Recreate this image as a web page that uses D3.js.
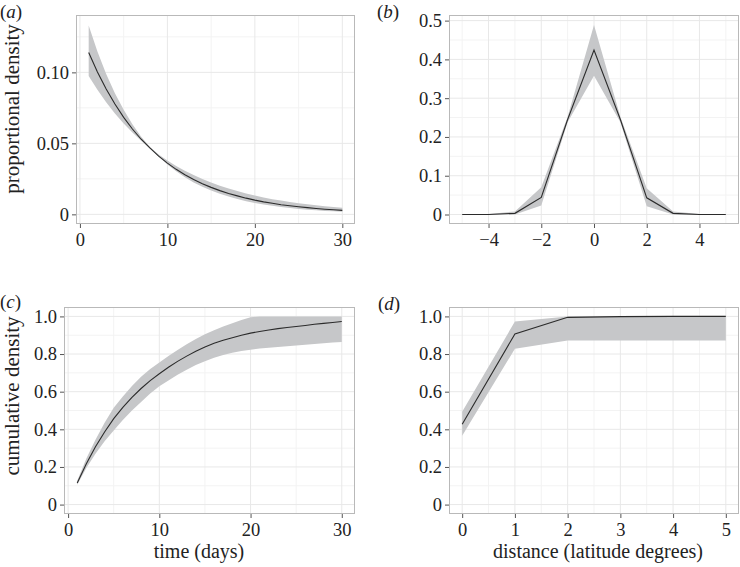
<!DOCTYPE html>
<html><head><meta charset="utf-8">
<script src="https://cdn.jsdelivr.net/npm/d3@7"></script>
<style>
html,body{margin:0;padding:0;background:#fff;}
svg text{font-family:"Liberation Serif","DejaVu Serif",serif;fill:#222;}
</style>
</head><body>
<svg id="chart" width="740" height="567"></svg>
<script>
// ---- data ----
const days = [1,2,3,4,5,6,7,8,9,10,11,12,13,14,15,16,17,18,19,20,21,22,23,24,25,26,27,28,29,30];
const propMean = [0.1140,0.1003,0.0883,0.0777,0.0683,0.0601,0.0529,0.0468,0.0410,0.0361,0.0317,0.0279,0.0246,0.0216,0.0190,0.0167,0.0147,0.0130,0.0114,0.0100,0.0088,0.0078,0.0068,0.0060,0.0053,0.0047,0.0041,0.0036,0.0032,0.0028];
const propLow  = [0.0975,0.0878,0.0790,0.0711,0.0640,0.0577,0.0519,0.0462,0.0407,0.0351,0.0303,0.0261,0.0225,0.0194,0.0168,0.0145,0.0125,0.0108,0.0093,0.0080,0.0069,0.0060,0.0051,0.0044,0.0038,0.0033,0.0028,0.0024,0.0021,0.0018];
const propHigh = [0.1330,0.1147,0.0989,0.0853,0.0736,0.0635,0.0547,0.0474,0.0421,0.0379,0.0341,0.0307,0.0277,0.0249,0.0224,0.0202,0.0182,0.0164,0.0147,0.0133,0.0119,0.0107,0.0097,0.0087,0.0078,0.0071,0.0064,0.0057,0.0052,0.0046];

const dist = [-5,-4,-3,-2,-1,0,1,2,3,4,5];
const distMean = [0,0,0.003,0.044,0.245,0.424,0.245,0.043,0.003,0,0];
const distLow  = [0,0,0,0.023,0.238,0.358,0.238,0.021,0,0,0];
const distHigh = [0,0.001,0.008,0.070,0.252,0.489,0.252,0.068,0.008,0.001,0];

const cumMean = [0.115,0.217,0.307,0.386,0.457,0.517,0.570,0.617,0.659,0.695,0.730,0.761,0.789,0.815,0.838,0.857,0.873,0.887,0.900,0.911,0.920,0.928,0.935,0.941,0.946,0.952,0.958,0.963,0.968,0.973];
const cumLow  = [0.105,0.195,0.270,0.337,0.394,0.450,0.500,0.545,0.590,0.629,0.660,0.690,0.717,0.742,0.762,0.780,0.795,0.807,0.816,0.823,0.829,0.834,0.838,0.842,0.846,0.850,0.854,0.857,0.861,0.864];
const cumHigh = [0.127,0.245,0.345,0.435,0.515,0.575,0.630,0.680,0.720,0.755,0.790,0.822,0.852,0.880,0.905,0.926,0.946,0.964,0.981,0.995,1.0,1.0,1.0,1.0,1.0,1.0,1.0,1.0,1.0,1.0];

const latDeg = [0,1,2,3,4,5];
const latMean = [0.427,0.907,0.995,0.999,1.0,1.0];
const latLow  = [0.366,0.828,0.872,0.872,0.872,0.872];
const latHigh = [0.494,0.973,1.0,1.0,1.0,1.0];

const ticksA_x = [0,10,20,30];
const ticksA_y = [0,0.05,0.10];
const labelsA_y = ["0","0.05","0.10"];
const ticksB_x = [-4,-2,0,2,4];
const labelsB_x = ["\u22124","\u22122","0","2","4"];
const ticksB_y = [0,0.1,0.2,0.3,0.4,0.5];
const labelsB_y = ["0","0.1","0.2","0.3","0.4","0.5"];
const ticksC_y = [0,0.2,0.4,0.6,0.8,1.0];
const labelsC_y = ["0","0.2","0.4","0.6","0.8","1.0"];
const ticksD_x = [0,1,2,3,4,5];

// ---- drawing ----
const svg = d3.select("#chart");
const SERIF = "'Liberation Serif','DejaVu Serif',serif";

function panel(cfg){
  const {x0,x1,y0,y1,xDom,yDom,xTicks,xLabels,yTicks,yLabels,xMinor,yMinor,xs,mean,lo,hi,tag,tagPos,xTitle,xTitlePos,yTitle,yTitlePos} = cfg;
  const x = d3.scaleLinear().domain(xDom).range([x0,x1]);
  const y = d3.scaleLinear().domain(yDom).range([y1,y0]);
  const g = svg.append("g");
  g.append("rect").attr("x",x0).attr("y",y0).attr("width",x1-x0).attr("height",y1-y0).attr("fill","#fff");
  g.selectAll(null).data(xMinor).join("line")
    .attr("x1",d=>x(d)).attr("x2",d=>x(d)).attr("y1",y0).attr("y2",y1)
    .attr("stroke","#f3f3f3").attr("stroke-width",1);
  g.selectAll(null).data(yMinor).join("line")
    .attr("y1",d=>y(d)).attr("y2",d=>y(d)).attr("x1",x0).attr("x2",x1)
    .attr("stroke","#f3f3f3").attr("stroke-width",1);
  g.selectAll(null).data(xTicks).join("line")
    .attr("x1",d=>x(d)).attr("x2",d=>x(d)).attr("y1",y0).attr("y2",y1)
    .attr("stroke","#e8e8e8").attr("stroke-width",1);
  g.selectAll(null).data(yTicks).join("line")
    .attr("y1",d=>y(d)).attr("y2",d=>y(d)).attr("x1",x0).attr("x2",x1)
    .attr("stroke","#e8e8e8").attr("stroke-width",1);
  const pts = xs.map((v,i)=>({x:v,m:mean[i],lo:lo[i],hi:hi[i]}));
  g.append("path").datum(pts)
    .attr("d", d3.area().x(d=>x(d.x)).y0(d=>y(d.lo)).y1(d=>y(d.hi)))
    .attr("fill","#c6c7c9");
  g.append("path").datum(pts)
    .attr("d", d3.line().x(d=>x(d.x)).y(d=>y(d.m)))
    .attr("fill","none").attr("stroke","#2b2b2b").attr("stroke-width",1.1);
  g.append("rect").attr("x",x0+0.5).attr("y",y0+0.5).attr("width",x1-x0-1).attr("height",y1-y0-1)
    .attr("fill","none").attr("stroke","#b9b9b9").attr("stroke-width",1);
  const ax = g.append("g").attr("transform",`translate(0,${y1})`)
    .call(d3.axisBottom(x).tickValues(xTicks).tickFormat((d,i)=>xLabels[i]).tickSize(4).tickPadding(5));
  const ay = g.append("g").attr("transform",`translate(${x0},0)`)
    .call(d3.axisLeft(y).tickValues(yTicks).tickFormat((d,i)=>yLabels[i]).tickSize(4).tickPadding(3));
  [ax,ay].forEach(a=>{
    a.attr("font-family",SERIF).attr("font-size",18.5);
    a.select(".domain").remove();
    a.selectAll(".tick line").attr("stroke","#555");
    a.selectAll(".tick text").style("font-family",SERIF).style("font-size","18.5px").attr("fill","#222");
  });
  const t = g.append("text").attr("x",tagPos[0]).attr("y",tagPos[1]).style("font-size","19px");
  t.append("tspan").text("(");
  t.append("tspan").style("font-style","italic").text(tag);
  t.append("tspan").text(")");
  if(xTitle){
    g.append("text").attr("x",xTitlePos[0]).attr("y",xTitlePos[1]).attr("text-anchor","middle")
      .style("font-size","20px").text(xTitle);
  }
  if(yTitle){
    g.append("text").attr("transform",`translate(${yTitlePos[0]},${yTitlePos[1]}) rotate(-90)`)
      .attr("text-anchor","middle").style("font-size","21px").text(yTitle);
  }
}

panel({x0:76,x1:355,y0:15,y1:224,xDom:[-0.45,31.45],yDom:[-0.0068,0.1404],
  xTicks:ticksA_x,xLabels:ticksA_x.map(String),yTicks:ticksA_y,yLabels:labelsA_y,
  xMinor:[5,15,25],yMinor:[0.025,0.075,0.125],
  xs:days,mean:propMean,lo:propLow,hi:propHigh,tag:"a",tagPos:[0,18],
  yTitle:"proportional density",yTitlePos:[19,109]});

panel({x0:449,x1:739,y0:15,y1:224,xDom:[-5.5,5.5],yDom:[-0.0245,0.5145],
  xTicks:ticksB_x,xLabels:labelsB_x,yTicks:ticksB_y,yLabels:labelsB_y,
  xMinor:[-5,-3,-1,1,3,5],yMinor:[0.05,0.15,0.25,0.35,0.45],
  xs:dist,mean:distMean,lo:distLow,hi:distHigh,tag:"b",tagPos:[377,18]});

panel({x0:64,x1:355,y0:307,y1:514,xDom:[-0.45,31.45],yDom:[-0.05,1.05],
  xTicks:ticksA_x,xLabels:ticksA_x.map(String),yTicks:ticksC_y,yLabels:labelsC_y,
  xMinor:[5,15,25],yMinor:[0.1,0.3,0.5,0.7,0.9],
  xs:days,mean:cumMean,lo:cumLow,hi:cumHigh,tag:"c",tagPos:[0,308],
  xTitle:"time (days)",xTitlePos:[199,558],
  yTitle:"cumulative density",yTitlePos:[19,396]});

panel({x0:449,x1:739,y0:307,y1:514,xDom:[-0.25,5.25],yDom:[-0.05,1.05],
  xTicks:ticksD_x,xLabels:ticksD_x.map(String),yTicks:ticksC_y,yLabels:labelsC_y,
  xMinor:[0.5,1.5,2.5,3.5,4.5],yMinor:[0.1,0.3,0.5,0.7,0.9],
  xs:latDeg,mean:latMean,lo:latLow,hi:latHigh,tag:"d",tagPos:[378,310],
  xTitle:"distance (latitude degrees)",xTitlePos:[598,558]});
</script>
</body></html>
